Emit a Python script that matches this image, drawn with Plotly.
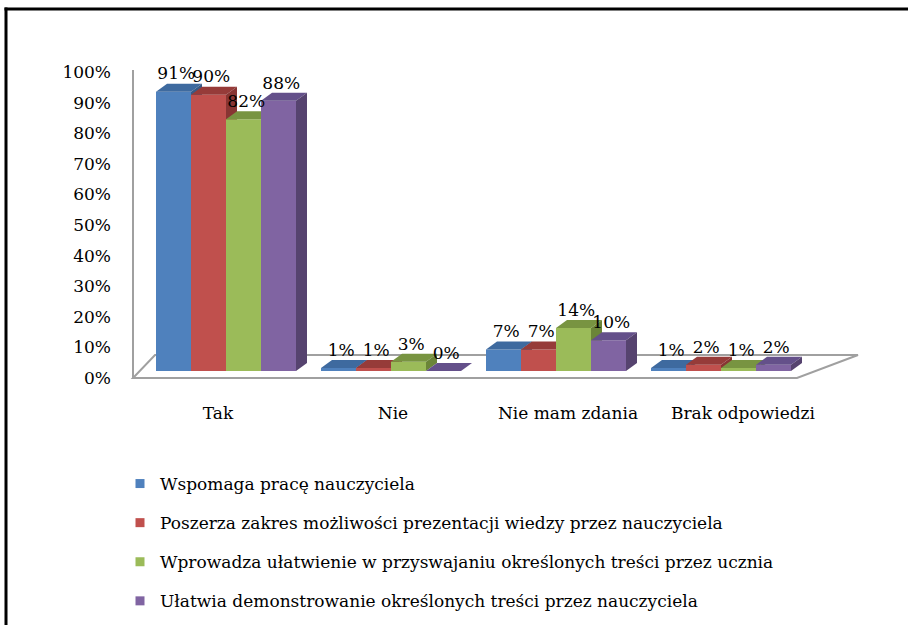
import plotly.graph_objects as go

categories = ["Tak", "Nie", "Nie mam zdania", "Brak odpowiedzi"]
series_names = [
    "Wspomaga pracę nauczyciela",
    "Poszerza zakres możliwości prezentacji wiedzy przez nauczyciela",
    "Wprowadza ułatwienie w przyswajaniu określonych treści przez ucznia",
    "Ułatwia demonstrowanie określonych treści przez nauczyciela",
]
s1 = [91, 1, 7, 1]
s2 = [90, 1, 7, 2]
s3 = [82, 3, 14, 1]
s4 = [88, 0, 10, 2]
series_values = [s1, s2, s3, s4]
y_ticks = [0, 10, 20, 30, 40, 50, 60, 70, 80, 90, 100]

front_colors = ["#4F81BD", "#C0504D", "#9BBB59", "#8064A2"]
top_colors = ["#3E6A9F", "#963B39", "#789441", "#64508A"]
side_colors = ["#375B86", "#883533", "#6B8538", "#56436F"]

W, H = 908, 625
L, R, T, B = 118, 870, 60, 380   # plot area in pixels
PW, PH = R - L, B - T

# label axis (x) : category i at 218 + 175*i
xr = [-(218 - L) / 175, (R - 218) / 175]
# bar axis (x2) : group i centered at 226 + 165*i
x2r = [-(226 - L) / 165, (R - 226) / 165]
# tick axis (y): 0 -> 378 px, 100 -> 72 px
ys = 3.06
yr = [-(B - 378) / ys, 100 + (72 - T) / ys]
# bar axis (y2): 0 -> 371 px
y2s = 3.07
y2r = [-(B - 371) / y2s, (371 - T) / y2s]

bw = 35 / 165
dx = 11 / 165
dy = 8 / y2s

fig = go.Figure()

font_family = "DejaVu Serif"
fs = 17

for ci in range(len(categories)):
    for si, vals in enumerate(series_values):
        v = vals[ci]
        x0 = ci + (si - 2) * bw
        x1 = x0 + bw
        # front face
        fig.add_trace(go.Scatter(
            x=[x0, x1, x1, x0, x0], y=[0, 0, v, v, 0],
            xaxis="x2", yaxis="y2", mode="lines", fill="toself",
            fillcolor=front_colors[si], line=dict(width=0, color=front_colors[si]),
            showlegend=False, hoverinfo="skip"))
        # top face
        fig.add_trace(go.Scatter(
            x=[x0, x1, x1 + dx, x0 + dx, x0], y=[v, v, v + dy, v + dy, v],
            xaxis="x2", yaxis="y2", mode="lines", fill="toself",
            fillcolor=top_colors[si], line=dict(width=0, color=top_colors[si]),
            showlegend=False, hoverinfo="skip"))
        # side face
        fig.add_trace(go.Scatter(
            x=[x1, x1 + dx, x1 + dx, x1, x1], y=[0, dy, v + dy, v, 0],
            xaxis="x2", yaxis="y2", mode="lines", fill="toself",
            fillcolor=side_colors[si], line=dict(width=0, color=side_colors[si]),
            showlegend=False, hoverinfo="skip"))

# data labels
for si, vals in enumerate(series_values):
    xs = [ci + (si - 2) * bw + bw / 2 + dx / 4 for ci in range(len(categories))]
    fig.add_trace(go.Scatter(
        x=xs, y=[v + dy for v in vals], xaxis="x2", yaxis="y2",
        mode="text", text=[f"{v}%" for v in vals], textposition="top center",
        textfont=dict(family=font_family, size=fs, color="#000000"),
        showlegend=False, hoverinfo="skip", cliponaxis=False))

# legend entries
for si, name in enumerate(series_names):
    fig.add_trace(go.Scatter(
        x=[None], y=[None], mode="markers", name=name,
        marker=dict(symbol="square", size=9, color=front_colors[si]),
        legendgroup=f"g{si}", showlegend=True))

# category axis carrier
fig.add_trace(go.Scatter(x=[0, 1, 2, 3], y=[None] * 4, xaxis="x", yaxis="y",
                         mode="markers", showlegend=False, hoverinfo="skip"))


def px(xp):
    return (xp - L) / PW


def py(yp):
    return (B - yp) / PH


shapes = []
gray = "#A0A0A0"
# floor (parallelogram)
shapes.append(dict(type="path", xref="paper", yref="paper",
                   path=f"M {px(133)} {py(378)} L {px(797)} {py(378)} L {px(858)} {py(355)} L {px(155)} {py(355)} Z",
                   line=dict(color=gray, width=2), fillcolor="rgba(255,255,255,0)", layer="below"))
# left wall line
shapes.append(dict(type="line", xref="paper", yref="paper",
                   x0=px(133), y0=py(378), x1=px(133), y1=py(70),
                   line=dict(color=gray, width=2), layer="below"))
# outer frame: top and left edges
shapes.append(dict(type="line", xref="paper", yref="paper",
                   x0=px(4.5), y0=py(9), x1=px(908), y1=py(9),
                   line=dict(color="#000000", width=3)))
shapes.append(dict(type="line", xref="paper", yref="paper",
                   x0=px(6), y0=py(7.5), x1=px(6), y1=py(625),
                   line=dict(color="#000000", width=3)))

fig.update_layout(
    width=W, height=H,
    margin=dict(l=L, r=W - R, t=T, b=H - B, autoexpand=False),
    paper_bgcolor="white", plot_bgcolor="white",
    font=dict(family=font_family, size=fs, color="#000000"),
    shapes=shapes,
    xaxis=dict(range=xr, tickmode="array", tickvals=[0, 1, 2, 3], ticktext=categories,
               showgrid=False, zeroline=False, showline=False, ticks="",
               tickfont=dict(family=font_family, size=fs), ticklabelstandoff=21),
    xaxis2=dict(range=x2r, overlaying="x", visible=False),
    yaxis=dict(range=yr, tickmode="array", tickvals=y_ticks,
               ticktext=[f"{t}%" for t in y_ticks], showgrid=False, zeroline=False,
               showline=False, ticks="", tickfont=dict(family=font_family, size=fs),
               ticklabelstandoff=6),
    yaxis2=dict(range=y2r, overlaying="y", visible=False),
    legend=dict(x=px(120), y=py(466), xanchor="left", yanchor="top",
                font=dict(family=font_family, size=fs), tracegroupgap=14,
                bgcolor="rgba(0,0,0,0)", itemwidth=30),
    showlegend=True,
)

fig.write_html("out.html", config={"displayModeBar": False},
               post_script="document.body.style.margin='0px';document.body.style.overflow='hidden';")
